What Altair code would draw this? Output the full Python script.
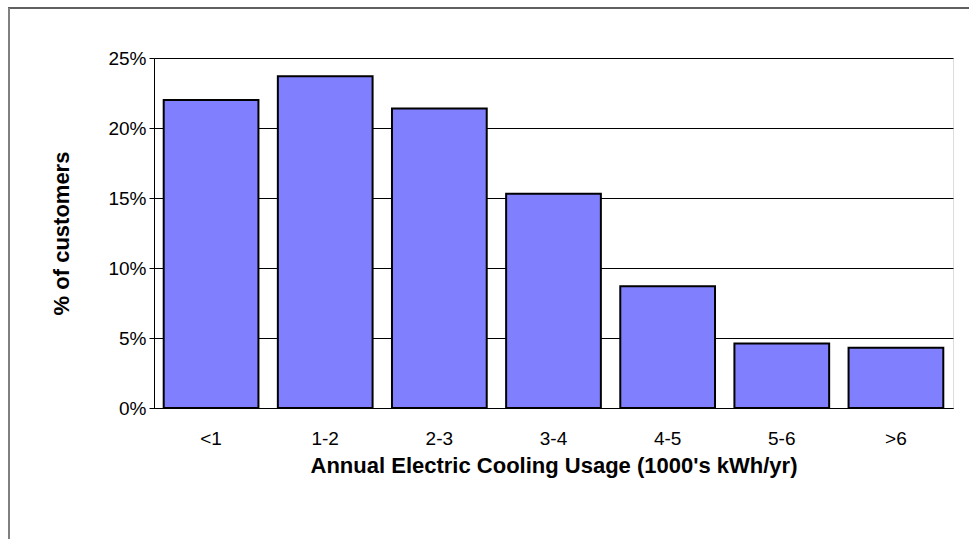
import altair as alt
import pandas as pd

# Share of customers by annual electric cooling usage band
usage_bands = ["<1", "1-2", "2-3", "3-4", "4-5", "5-6", ">6"]
share_of_customers = [0.220, 0.237, 0.214, 0.153, 0.087, 0.046, 0.043]
y_ticks = [0, 0.05, 0.10, 0.15, 0.20, 0.25]

df = pd.DataFrame({"band": usage_bands, "share": share_of_customers})

FONT = "Liberation Sans"

bars = alt.Chart(df).mark_bar(
    color="#8080FF", stroke="black", strokeWidth=2
).encode(
    x=alt.X(
        "band:N",
        sort=usage_bands,
        scale=alt.Scale(paddingInner=0.17, paddingOuter=0.085),
        axis=alt.Axis(
            title="Annual Electric Cooling Usage (1000's kWh/yr)",
            labelAngle=0,
            ticks=False,
            domainColor="black",
            domainWidth=1,
            labelFont=FONT,
            labelFontSize=19,
            labelColor="black",
            labelPadding=21,
            titleFont=FONT,
            titleFontSize=22,
            titleFontWeight="bold",
            titleColor="black",
            titlePadding=7,
            grid=False,
        ),
    ),
    y=alt.Y(
        "share:Q",
        scale=alt.Scale(domain=[0, 0.25], nice=False),
        axis=alt.Axis(
            title="% of customers",
            values=y_ticks,
            format=".0%",
            tickSize=5,
            tickColor="black",
            domainColor="black",
            domainWidth=1,
            gridColor="black",
            gridWidth=1,
            labelFont=FONT,
            labelFontSize=19,
            labelColor="black",
            labelPadding=3,
            titleFont=FONT,
            titleFontSize=22,
            titleFontWeight="bold",
            titleColor="black",
            titlePadding=34,
        ),
    ),
)

# Outer chart frame (top and left edges)
frame_top = alt.Chart(df).mark_rule(color="#606060", strokeWidth=1.5).encode(
    x=alt.value(-146), x2=alt.value(830), y=alt.value(-50)
)
frame_left = alt.Chart(df).mark_rule(color="#808080", strokeWidth=2).encode(
    x=alt.value(-145), y=alt.value(-50), y2=alt.value(500)
)

chart = alt.layer(bars, frame_top, frame_left).properties(
    width=799,
    height=350,
    autosize=alt.AutoSizeParams(type="none"),
    padding={"left": 154, "top": 58, "right": 16, "bottom": 131},
).configure_view(
    stroke="#808080", strokeWidth=1.5
).configure(background="white")

chart.save("out.html", embed_options={"renderer": "svg", "actions": False})
